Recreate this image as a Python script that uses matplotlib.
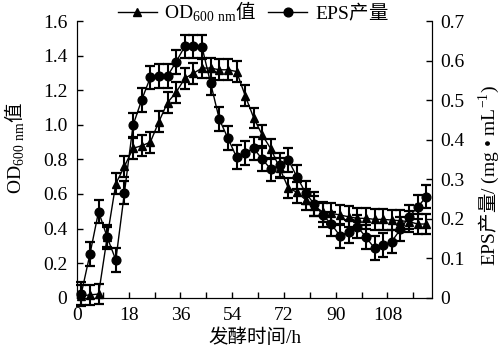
import matplotlib.pyplot as plt
from matplotlib.lines import Line2D

plt.rcParams['font.family'] = ['Liberation Serif', 'Noto Sans CJK SC']
plt.rcParams['mathtext.fontset'] = 'custom'
plt.rcParams['mathtext.rm'] = 'Liberation Serif'
plt.rcParams['mathtext.sf'] = 'Noto Sans CJK SC'
plt.rcParams['font.size'] = 14

# sampling times (h)
time_h = [1.5, 4.5, 7.5, 10.5, 13.5, 16.5, 19.5, 22.5, 25.5, 28.5,
          31.5, 34.5, 37.5, 40.5, 43.5, 46.5, 49.5, 52.5, 55.5, 58.5,
          61.5, 64.5, 67.5, 70.5, 73.5, 76.5, 79.5, 82.5, 85.5, 88.5,
          91.5, 94.5, 97.5, 100.5, 103.5, 106.5, 109.5, 112.5, 115.5, 118.5,
          121.5]

# OD600 (left axis)
od600 = [0.01, 0.015, 0.02, 0.35, 0.66, 0.76, 0.865, 0.88, 0.90, 1.02,
         1.13, 1.19, 1.27, 1.30, 1.33, 1.33, 1.32, 1.32, 1.31, 1.17,
         1.04, 0.94, 0.86, 0.75, 0.635, 0.61, 0.567, 0.53, 0.496, 0.488,
         0.478, 0.468, 0.459, 0.459, 0.453, 0.453, 0.449, 0.445, 0.44, 0.426,
         0.426]

# EPS yield mg/mL (right axis)
eps = [0.01, 0.110, 0.218, 0.153, 0.095, 0.266, 0.437, 0.501, 0.558, 0.562,
       0.562, 0.598, 0.637, 0.637, 0.635, 0.543, 0.452, 0.404, 0.356, 0.367,
       0.378, 0.350, 0.325, 0.336, 0.349, 0.306, 0.266, 0.237, 0.209, 0.186,
       0.156, 0.167, 0.180, 0.153, 0.125, 0.133, 0.142, 0.173, 0.205, 0.229,
       0.256]

od_err = 0.06
eps_err = 0.03

x_ticks = [0, 18, 36, 54, 72, 90, 108]
od_ticks = [0, 0.2, 0.4, 0.6, 0.8, 1.0, 1.2, 1.4, 1.6]
od_labels = ['0', '0.2', '0.4', '0.6', '0.8', '1.0', '1.2', '1.4', '1.6']
eps_ticks = [0, 0.1, 0.2, 0.3, 0.4, 0.5, 0.6, 0.7]
eps_labels = ['0', '0.1', '0.2', '0.3', '0.4', '0.5', '0.6', '0.7']

fig = plt.figure(figsize=(5.02, 3.6), dpi=100)
ax = fig.add_axes([0.1534, 0.1736, 0.7072, 0.7667])
ax2 = ax.twinx()

ax.errorbar(time_h, od600, yerr=od_err, fmt='-^', color='black', ms=5.5, lw=1,
            elinewidth=1.5, capsize=3.5, capthick=1.6, clip_on=False)
ax2.errorbar(time_h, eps, yerr=eps_err, fmt='-o', color='black', ms=6.3, lw=1,
             elinewidth=1.5, capsize=3.5, capthick=1.6, clip_on=False)

ax.set_xlim(0, 123.5)
ax.set_ylim(0, 1.6)
ax2.set_ylim(0, 0.7)

ax.set_xticks(x_ticks)
ax.set_xticks([9, 27, 45, 63, 81, 99, 117], minor=True)
ax.set_yticks(od_ticks, od_labels)
ax2.set_yticks(eps_ticks, eps_labels)

for a in (ax, ax2):
    a.spines['top'].set_visible(False)
    a.tick_params(which='both', direction='in', length=4, width=1)
ax.tick_params(axis='x', which='both', pad=7)
ax.tick_params(axis='y', pad=7)
ax2.tick_params(axis='y', pad=6)

ax.set_xlabel('发酵时间/h', labelpad=3)
ax.set_ylabel(r'OD$_{\rm 600\ nm}$$\mathsf{值}$')
ax.yaxis.set_label_coords(-0.14, 0.54)
ax2.set_ylabel(r'EPS$\mathsf{产量}$/ (mg • mL$^{-1}$)', fontsize=14)
ax2.yaxis.set_label_coords(1.125, 0.44)

handles = [Line2D([], [], color='black', marker='^', ms=5.5, lw=1),
           Line2D([], [], color='black', marker='o', ms=6.3, lw=1)]
labels = [r'OD$_{\rm 600\ nm}$$\mathsf{值}$', r'EPS$\mathsf{产量}$']
ax2.legend(handles, labels, loc='center', bbox_to_anchor=(0.496, 1.034),
           ncol=2, frameon=False, handlelength=2.0, handletextpad=0.4,
           columnspacing=0.6, borderpad=0, fontsize=14)

fig.savefig('out.png', dpi=100)
